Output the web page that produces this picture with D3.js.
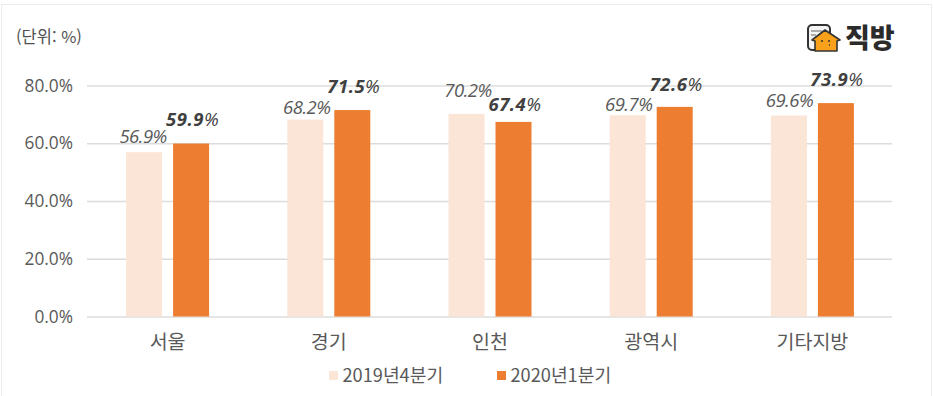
<!DOCTYPE html>
<html lang="ko">
<head>
<meta charset="UTF-8">
<title>직방</title>
<script src="https://d3js.org/d3.v7.min.js"></script>
<style>
    body, html { margin: 0; background: #fff; overflow: hidden; }
    svg { display: block; }
    text { font-family: 'Noto Sans CJK KR', sans-serif; }
    .num { font-family: 'Open Sans', 'Noto Sans', sans-serif; }
</style>
</head>
<body>
<svg id="chart" width="933" height="396"></svg>
<script>
const categories = ['서울', '경기', '인천', '광역시', '기타지방'];
const seriesNames = ['2019년4분기', '2020년1분기'];
const values2019 = [56.9, 68.2, 70.2, 69.7, 69.6];
const values2020 = [59.9, 71.5, 67.4, 72.6, 73.9];
const yTicks = [0, 20, 40, 60, 80];
const colors = ['#fbe5d6', '#ed7d31'];
// the labels were dragged by hand in the original, so they don't sit at a fixed gap
const lift2019 = [9, 5.5, 17, 4, 8.5];
const lift2020 = [17.5, 17, 11, 16, 17];
const shift2019 = [-1, 1.5, 1.5, 1, 0.5];
const shift2020 = [1.5, 1.5, 1.5, 1.5, 1];

const svg = d3.select('#chart');

// image frame
svg.append('rect').attr('x', 1.5).attr('y', 4.5).attr('width', 930).attr('height', 400)
    .attr('fill', 'none').attr('stroke', '#ececec');

const x = d3.scaleBand().domain(categories).range([87, 893]);
const y = d3.scaleLinear().domain([0, 80]).range([316.5, 85.5]);
const barW = 36;

// gridlines and y axis
const yAxis = svg.append('g')
    .attr('transform', 'translate(87,0)')
    .call(d3.axisLeft(y).tickValues(yTicks).tickSize(-805).tickPadding(14).tickFormat(d => d.toFixed(1) + '%'));
yAxis.select('.domain').remove();
yAxis.selectAll('line').attr('stroke', '#dcdcdc').attr('stroke-width', 1.4);
yAxis.selectAll('text').attr('class', 'num').attr('fill', '#595959').attr('font-size', 17.3);

// x axis
const xAxis = svg.append('g')
    .attr('transform', 'translate(0,316.5)')
    .call(d3.axisBottom(x).tickSize(0).tickPadding(19));
xAxis.select('.domain').remove();
xAxis.selectAll('text').attr('fill', '#595959').attr('font-size', 19.5);

// bars and labels
[values2019, values2020].forEach((vals, s) => {
    const off = s === 0 ? -23.5 : 23.5;
    const lift = s === 0 ? lift2019 : lift2020;
    const shift = s === 0 ? shift2019 : shift2020;
    const g = svg.append('g');
    g.selectAll('rect').data(vals).join('rect')
        .attr('x', (d, i) => x(categories[i]) + x.bandwidth() / 2 + off - barW / 2)
        .attr('y', d => y(d))
        .attr('width', barW)
        .attr('height', d => y(0) - y(d))
        .attr('fill', colors[s]);
    const labels = g.selectAll('text').data(vals).join('text')
        .attr('class', 'num')
        .attr('x', (d, i) => x(categories[i]) + x.bandwidth() / 2 + off + shift[i])
        .attr('y', (d, i) => y(d) - lift[i])
        .attr('text-anchor', 'middle')
        .attr('font-size', 18.5)
        .attr('font-style', 'italic')
        .attr('fill', s === 0 ? '#595959' : '#404040');
    if (s === 0) {
        labels.attr('letter-spacing', -0.5).text(d => d.toFixed(1) + '%');
    } else {
        labels.attr('letter-spacing', 0.5);
        labels.append('tspan').attr('font-weight', 700).text(d => d.toFixed(1));
        labels.append('tspan').attr('font-weight', 400).text('%');
    }
});

// unit note
svg.append('text').attr('x', 16).attr('y', 43).attr('font-size', 16.5).attr('fill', '#505050').text('(단위: %)');

// legend
const legendX = [329, 497];
const legend = svg.selectAll('.lg').data(seriesNames).join('g').attr('class', 'lg')
    .attr('transform', (d, i) => `translate(${legendX[i]},371)`);
legend.append('rect').attr('width', 9).attr('height', 9).attr('fill', (d, i) => colors[i]);
legend.append('text').attr('x', 13.5).attr('y', 11).attr('font-size', 18.2).attr('fill', '#595959').text(d => d);

// logo
const logo = svg.append('g').attr('transform', 'translate(807,24)');
logo.append('rect').attr('x', 1).attr('y', 1).attr('width', 22).attr('height', 25).attr('rx', 4)
    .attr('fill', '#f4f4f4').attr('stroke', '#333').attr('stroke-width', 2);
logo.append('path').attr('d', 'M4 7H15M4 11H9').attr('stroke', '#666').attr('stroke-width', 1.2);
logo.append('path').attr('d', 'M5 16L18 6L33 16L30 17V27H8V17Z')
    .attr('fill', '#f9a11b').attr('stroke', '#333').attr('stroke-width', 1.6).attr('stroke-linejoin', 'round');
logo.append('path').attr('d', 'M14 17h2M21 17h2M22 21h1').attr('stroke', '#333').attr('stroke-width', 1.5);
logo.append('text').attr('x', 38).attr('y', 24).attr('font-size', 27).attr('font-weight', 900)
    .attr('fill', '#2b2b2b').text('직방');
</script>
</body>
</html>
